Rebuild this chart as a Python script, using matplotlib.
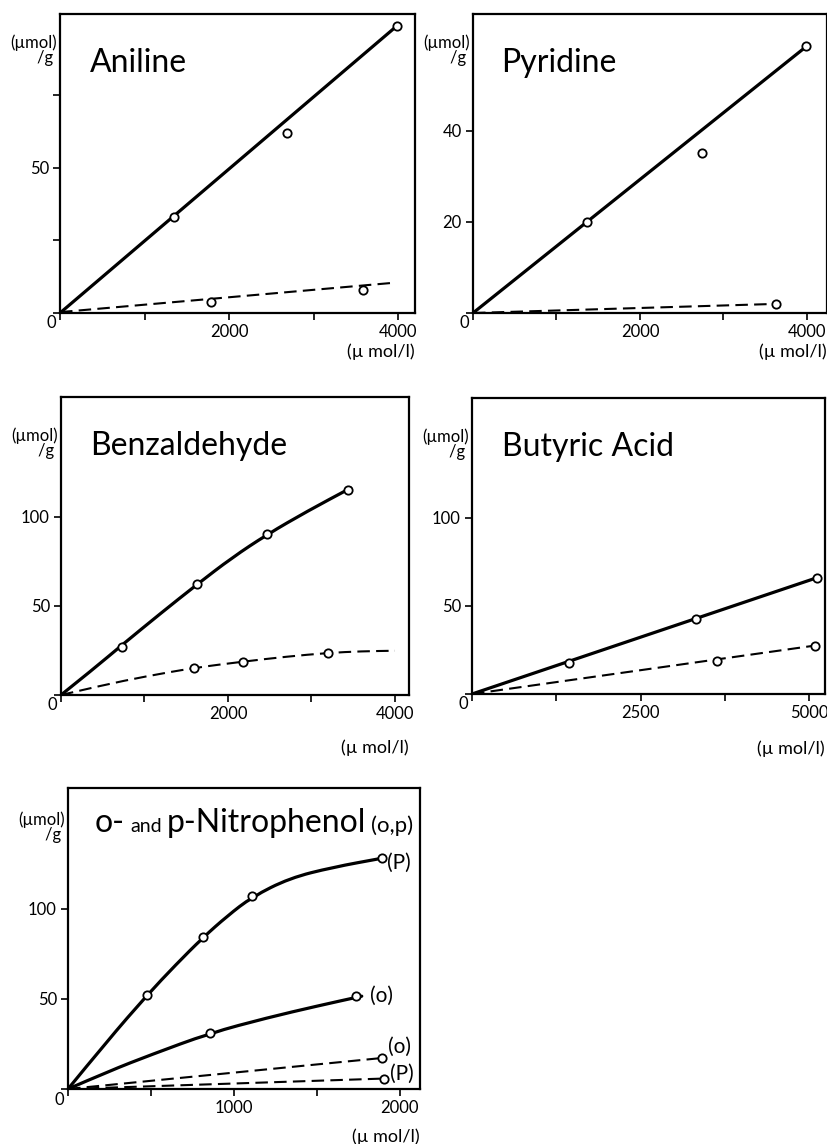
import numpy as np
import matplotlib
matplotlib.use("Agg")
import matplotlib.pyplot as plt
from matplotlib.path import Path
from matplotlib.patches import PathPatch

plt.rcParams['font.family'] = ['Lato', 'DejaVu Sans']

# ---- data ----
# Aniline
ani_sol_x = [1345, 2680, 3990]
ani_sol_y = [33, 62, 99]
ani_sol_line_x = [0, 3990]
ani_sol_line_y = [0, 99]
ani_dash_x = [1786, 3583]
ani_dash_y = [3.8, 7.9]
ani_dash_line_x = [0, 3905]
ani_dash_line_y = [0.3, 10.3]

# Pyridine
pyr_sol_x = [1360, 2747, 3988]
pyr_sol_y = [20, 35.2, 58.7]
pyr_sol_line_x = [0, 3988]
pyr_sol_line_y = [0, 58.5]
pyr_dash_x = [3627]
pyr_dash_y = [2.0]
pyr_dash_line_x = [0, 3627]
pyr_dash_line_y = [0, 2.0]

# Benzaldehyde
benz_sol_x = [730, 1629, 2467, 3437]
benz_sol_y = [27, 62, 90, 115]
benz_sol_curve_x = [0, 400, 730, 1200, 1630, 2050, 2470, 2950, 3470]
benz_sol_curve_y = [0, 15, 28, 46, 62, 77, 90, 103, 116]
benz_dash_x = [1593, 2180, 3198]
benz_dash_y = [15.2, 18.6, 23.6]
benz_dash_curve_x = [0, 500, 1000, 1590, 2180, 2700, 3200, 3600, 4000]
benz_dash_curve_y = [0, 5.5, 10.3, 15.2, 18.7, 21.5, 23.6, 24.5, 24.8]

# Butyric acid
but_sol_x = [1435, 3328, 5118]
but_sol_y = [17.5, 42.7, 66]
but_sol_line_x = [0, 5118]
but_sol_line_y = [0, 66]
but_dash_x = [3639, 5089]
but_dash_y = [19.0, 27.5]
but_dash_line_x = [0, 5089]
but_dash_line_y = [0, 27.5]

# o- and p-Nitrophenol
p_sol_x = [476, 813, 1108, 1890]
p_sol_y = [52, 84.4, 107, 128]
p_sol_curve_x = [0, 240, 476, 650, 813, 960, 1108, 1335, 1595, 1890]
p_sol_curve_y = [0, 27, 52, 69, 84, 96, 106.5, 117, 123, 128]
o_sol_x = [855, 1735]
o_sol_y = [31, 51.7]
o_sol_curve_x = [0, 250, 500, 855, 1200, 1500, 1770]
o_sol_curve_y = [0, 10, 19, 31, 39.5, 46, 51.5]
o_dash_x = [1892]
o_dash_y = [17.2]
o_dash_line_x = [0, 1892]
o_dash_line_y = [0, 17.2]
p_dash_x = [1904]
p_dash_y = [5.8]
p_dash_line_x = [0, 1904]
p_dash_line_y = [0, 5.8]

W, H = 828, 1144
fig = plt.figure(figsize=(W / 100, H / 100), dpi=100)


def make_ax(l, r, t, b):
    return fig.add_axes([l / W, 1 - b / H, (r - l) / W, (b - t) / H])


ax1 = make_ax(60, 415, 14, 313)
ax2 = make_ax(473, 827, 14, 313)
ax3 = make_ax(61, 409, 397, 695)
ax4 = make_ax(472, 825, 398, 694)
ax5 = make_ax(68, 420, 788, 1089)

SOLID = dict(color='black', lw=2.3, solid_capstyle='round')
DASH = dict(color='black', lw=1.5, dashes=(6, 3))
MK = dict(ls='none', marker='o', ms=6, mfc='white', mec='black', mew=1.3, zorder=5)


def smooth(ax, xs, ys, dashed=False):
    # hand-drawn look: quadratic bezier through the read points
    pts = list(zip(xs, ys))
    verts = [pts[0]]
    codes = [Path.MOVETO]
    for i in range(1, len(pts) - 1):
        mid = ((pts[i][0] + pts[i + 1][0]) / 2, (pts[i][1] + pts[i + 1][1]) / 2)
        verts += [pts[i], mid]
        codes += [Path.CURVE3, Path.CURVE3]
    verts.append(pts[-1])
    codes.append(Path.LINETO)
    if dashed:
        kw = dict(lw=1.5, linestyle=(0, (6, 3)))
    else:
        kw = dict(lw=2.3, capstyle='round')
    ax.add_patch(PathPatch(Path(verts, codes), fill=False, edgecolor='black', **kw))


def style(ax, xlim, ylim, xt, xl, yt, yl):
    ax.set_xlim(*xlim)
    ax.set_ylim(*ylim)
    ax.set_xticks(xt)
    ax.set_xticklabels(xl)
    ax.set_yticks(yt)
    ax.set_yticklabels(yl)
    ax.tick_params(direction='out', length=5, width=1.2, labelsize=12, pad=3)
    for s in ax.spines.values():
        s.set_linewidth(1.6)
    ax.text(-0.025, -0.035, "0", transform=ax.transAxes, ha='center', va='center', fontsize=12)


def title(ax, s, x, y):
    ax.text(x, y, s, transform=ax.transAxes, fontsize=23, va='baseline', ha='left')


def ylab(ax, y):
    ax.text(-0.008, y, "(µmol)\n/g ", transform=ax.transAxes, fontsize=12,
            ha='right', va='center', multialignment='right', linespacing=0.9)


def xlab(ax, y):
    ax.text(1.0, y, "(µ mol/l)", transform=ax.transAxes, fontsize=13, ha='right', va='center')


# Aniline
ax1.plot(ani_sol_line_x, ani_sol_line_y, **SOLID)
ax1.plot(ani_sol_x, ani_sol_y, **MK)
ax1.plot(ani_dash_line_x, ani_dash_line_y, **DASH)
ax1.plot(ani_dash_x, ani_dash_y, **MK)
style(ax1, (0, 4200), (0, 103), [0, 1000, 2000, 3000, 4000], ['', '', '2000', '', '4000'],
      [0, 25, 50, 75], ['', '', '50', ''])
title(ax1, "Aniline", 0.085, 0.806)
ylab(ax1, 0.88)
xlab(ax1, -0.13)

# Pyridine
ax2.plot(pyr_sol_line_x, pyr_sol_line_y, **SOLID)
ax2.plot(pyr_sol_x, pyr_sol_y, **MK)
ax2.plot(pyr_dash_line_x, pyr_dash_line_y, **DASH)
ax2.plot(pyr_dash_x, pyr_dash_y, **MK)
style(ax2, (0, 4240), (0, 65.7), [0, 1000, 2000, 3000, 4000], ['', '', '2000', '', '4000'],
      [0, 20, 40], ['', '20', '40'])
title(ax2, "Pyridine", 0.079, 0.806)
ylab(ax2, 0.88)
xlab(ax2, -0.13)

# Benzaldehyde
smooth(ax3, benz_sol_curve_x, benz_sol_curve_y)
ax3.plot(benz_sol_x, benz_sol_y, **MK)
smooth(ax3, benz_dash_curve_x, benz_dash_curve_y, dashed=True)
ax3.plot(benz_dash_x, benz_dash_y, **MK)
style(ax3, (0, 4168), (0, 167), [0, 1000, 2000, 3000, 4000], ['', '', '2000', '', '4000'],
      [0, 50, 100], ['', '50', '100'])
title(ax3, "Benzaldehyde", 0.083, 0.805)
ylab(ax3, 0.845)
xlab(ax3, -0.178)

# Butyric Acid
ax4.plot(but_sol_line_x, but_sol_line_y, **SOLID)
ax4.plot(but_sol_x, but_sol_y, **MK)
ax4.plot(but_dash_line_x, but_dash_line_y, **DASH)
ax4.plot(but_dash_x, but_dash_y, **MK)
style(ax4, (0, 5237), (0, 168), [0, 1250, 2500, 3750, 5000], ['', '', '2500', '', '5000'],
      [0, 50, 100], ['', '50', '100'])
title(ax4, "Butyric Acid", 0.085, 0.803)
ylab(ax4, 0.845)
xlab(ax4, -0.186)

# Nitrophenol
smooth(ax5, p_sol_curve_x, p_sol_curve_y)
ax5.plot(p_sol_x, p_sol_y, **MK)
smooth(ax5, o_sol_curve_x, o_sol_curve_y)
ax5.plot(o_sol_x, o_sol_y, **MK)
ax5.plot(o_dash_line_x, o_dash_line_y, **DASH)
ax5.plot(o_dash_x, o_dash_y, **MK)
ax5.plot(p_dash_line_x, p_dash_line_y, **DASH)
ax5.plot(p_dash_x, p_dash_y, **MK)
style(ax5, (0, 2121), (0, 167), [0, 500, 1000, 1500, 2000], ['', '', '1000', '', '2000'],
      [0, 50, 100], ['', '50', '100'])
ylab(ax5, 0.87)
xlab(ax5, -0.16)
for s, xx, yy in [("(P)", 1921, 125.6), ("(o)", 1819, 51.7), ("(o)", 1927, 23.3), ("(P)", 1940, 8.3)]:
    ax5.text(xx, yy, s, fontsize=15, ha='left', va='center')

# composite title with mixed sizes
fig.canvas.draw()
r = fig.canvas.get_renderer()
xpos = 0.077
for s, size in [("o-", 23), ("and", 14), ("p-Nitrophenol", 23), ("(o,p)", 16)]:
    t = ax5.text(xpos, 0.854, s, transform=ax5.transAxes, fontsize=size, va='baseline', ha='left')
    bb = t.get_window_extent(r)
    xpos += (bb.width + 5) / ax5.bbox.width

fig.savefig("out.png", dpi=100)
